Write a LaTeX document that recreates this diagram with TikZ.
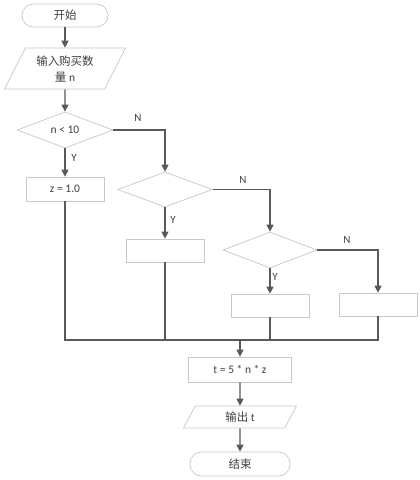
\documentclass[tikz,border=0pt]{standalone}
\usepackage{fontspec}
\setmainfont{Carlito}
\newfontfamily\cjk{Noto Sans CJK SC}
\usetikzlibrary{arrows.meta,shapes.geometric,calc}
\definecolor{lineC}{HTML}{595959}
\definecolor{boxC}{HTML}{C8C8C8}
\definecolor{txtC}{HTML}{404040}
\begin{document}
\begin{tikzpicture}[x=1pt,y=-1pt,
  every node/.style={font=\fontsize{11.5}{16}\selectfont, text=txtC, inner sep=0pt},
  base/.style={draw=boxC, line width=0.7pt},
  term/.style={base, rectangle, rounded corners=11.5pt, minimum width=100pt, minimum height=24pt},
  proc/.style={base, rectangle, minimum width=78pt, minimum height=23pt},
  dec/.style={base, diamond, minimum width=95pt, minimum height=35pt},
  io/.style={base, trapezium, trapezium stretches=true},
  conn/.style={draw=lineC, line width=1.2pt},
  arr/.style={conn, -{Triangle[length=7pt,width=7pt]}},
  lab/.style={font=\fontsize{11}{13}\selectfont}
]
\useasboundingbox[fill=white] (0,0) rectangle (420,480);

\node[term, minimum width=86pt, minimum height=23pt] (start) at (65,15.5) {\cjk 开始};
\node[io, trapezium left angle=60, trapezium right angle=120, minimum width=122pt, minimum height=41pt, align=center] (in) at (65,68.5) {{\cjk 输入购买数}\\{\cjk 量} n};
\node[dec, minimum width=96pt] (d1) at (65,130) {n < 10};
\node[proc, minimum height=24pt] (z) at (65,189) {z = 1.0};
\node[dec] (d2) at (165,189.5) {};
\node[proc] (b2) at (165,250.5) {};
\node[dec, minimum width=94pt, minimum height=36pt] (d3) at (270,250) {};
\node[proc] (b3) at (270,305.5) {};
\node[proc] (b4) at (378,304.5) {};
\coordinate (m) at (240,340);
\node[proc, minimum width=103pt, minimum height=25pt] (b5) at (240,369.5) {t = 5 * n * z};
\node[io, trapezium left angle=70, trapezium right angle=110, minimum width=113pt, minimum height=22pt] (out) at (240,417) {{\cjk 输出} t};
\node[term] (end) at (240,464) {\cjk 结束};

\node[lab] (n1) at (138,118) {N};
\node[lab] (y1) at (74,158) {Y};
\node[lab] (n2) at (243,180) {N};
\node[lab] (y2) at (173,220) {Y};
\node[lab] (n3) at (347,240) {N};
\node[lab] (y3) at (275,277) {Y};

\draw[arr] (start) -- (in);
\draw[arr] (in) -- (d1);
\draw[arr] (d1) -- (z);
\draw[arr] (d1.east) -| (d2.north);
\draw[arr] (d2) -- (b2);
\draw[arr] (d2.east) -| (d3.north);
\draw[arr] (d3) -- (b3);
\draw[arr] (d3.east) -| (b4.north);
\draw[conn] (z.south) |- (m) -| (b4.south);
\draw[conn] (b2.south) -- (b2.south |- m);
\draw[conn] (b3.south) -- (b3.south |- m);
\draw[arr] (m) -- (b5);
\draw[arr] (b5) -- (out);
\draw[arr] (out) -- (end);
\end{tikzpicture}
\end{document}
